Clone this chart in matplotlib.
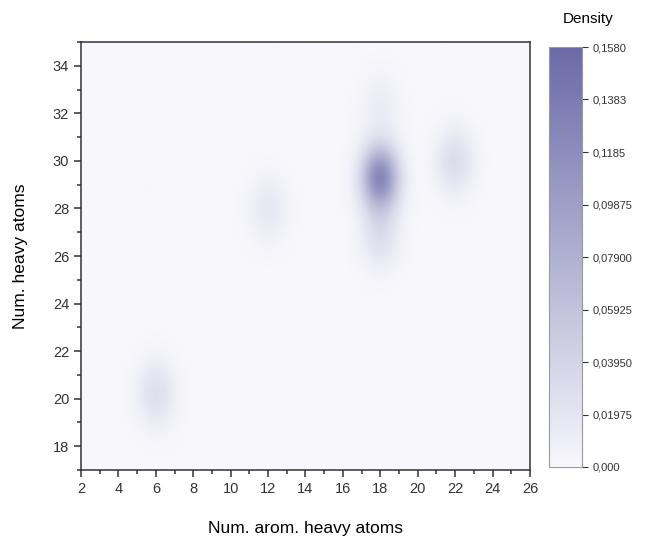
import numpy as np
import matplotlib.pyplot as plt
from matplotlib.colors import LinearSegmentedColormap

plt.rcParams['font.family'] = ['Liberation Sans', 'DejaVu Sans']

# cluster centres (arom. heavy atoms, heavy atoms) and counts
arom = [18, 18, 18, 22, 12, 6]
heavy = [29.3, 26.9, 32.3, 30.0, 28.0, 20.2]
counts = [50, 11, 5, 12, 7, 11]

cbar_ticks = [0.0, 0.01975, 0.0395, 0.05925, 0.079, 0.09875, 0.1185, 0.1383, 0.158]
cbar_labels = ['0,000', '0,01975', '0,03950', '0,05925', '0,07900',
               '0,09875', '0,1185', '0,1383', '0,1580']

# gaussian kde on a grid
bw_x, bw_y = 0.7, 0.95
gx = np.linspace(2, 26, 481)
gy = np.linspace(17, 35, 361)
X, Y = np.meshgrid(gx, gy)
w = np.array(counts, float) / np.sum(counts)
Z = np.zeros_like(X)
for xi, yi, wi in zip(arom, heavy, w):
    Z += wi * np.exp(-0.5 * (((X - xi) / bw_x)**2 + ((Y - yi) / bw_y)**2))
Z /= 2 * np.pi * bw_x * bw_y

cmap = LinearSegmentedColormap.from_list('dens', ['#f7f7fc', '#6a6aa8'])

fig = plt.figure(figsize=(6.46, 5.39), dpi=100)
ax = fig.add_axes([0.1254, 0.128, 0.695, 0.794])
im = ax.imshow(Z, extent=[2, 26, 17, 35], origin='lower', aspect='auto',
               cmap=cmap, vmin=0, vmax=0.158, interpolation='bilinear')

ax.set_xlim(2, 26)
ax.set_ylim(17, 35)
ax.set_xticks(np.arange(2, 27, 2))
ax.set_xticks(np.arange(3, 26, 2), minor=True)
ax.set_yticks(np.arange(18, 35, 2))
ax.set_yticks(np.arange(17, 36, 1), minor=True)
ax.tick_params(which='both', direction='out', labelsize=10.5, colors='#333333')
ax.tick_params(which='major', length=5, width=1.1)
ax.tick_params(which='minor', length=3, width=1.1)
for s in ax.spines.values():
    s.set_color('#333333')
    s.set_linewidth(1.1)
ax.set_xlabel('Num. arom. heavy atoms', fontsize=12.5, labelpad=18)
ax.set_ylabel('Num. heavy atoms', fontsize=12.5, labelpad=18)

cax = fig.add_axes([0.85, 0.1336, 0.051, 0.779])
cb = fig.colorbar(im, cax=cax, ticks=cbar_ticks)
cb.ax.set_yticklabels(cbar_labels)
cb.ax.tick_params(labelsize=8, length=4, colors='#333333')
cb.outline.set_edgecolor('#999999')
fig.text(0.91, 0.965, 'Density', fontsize=11, ha='center', va='center')

fig.savefig('out.png', dpi=100)
